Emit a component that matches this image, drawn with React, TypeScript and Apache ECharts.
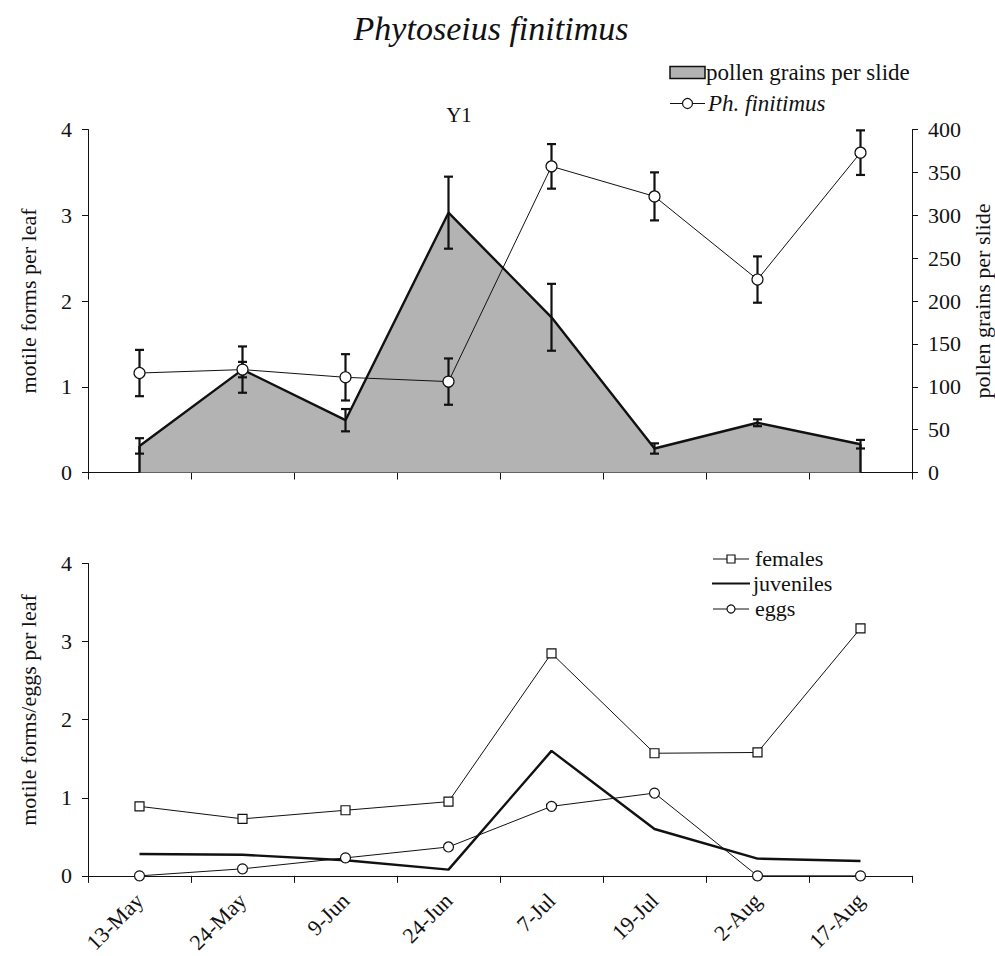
import React, { useEffect, useRef } from "react";
import * as echarts from "echarts";

// Sampling dates (shared by both panels)
const dates = ["13-May", "24-May", "9-Jun", "24-Jun", "7-Jul", "19-Jul", "2-Aug", "17-Aug"];

// Upper panel: pollen grains per slide (mean ± SE), right axis
const pollenMean = [31, 120, 61, 303, 181, 28, 58, 33];
const pollenSE = [9, 9, 13, 42, 39, 6, 4, 5];

// Upper panel: Ph. finitimus motile forms per leaf (mean ± SE), left axis
const finitimusMean = [1.16, 1.2, 1.11, 1.06, 3.57, 3.22, 2.25, 3.73];
const finitimusSE = [0.27, 0.27, 0.27, 0.27, 0.26, 0.28, 0.27, 0.26];

// Lower panel: life stages per leaf
const females = [0.89, 0.73, 0.84, 0.95, 2.85, 1.57, 1.58, 3.17];
const juveniles = [0.28, 0.27, 0.2, 0.08, 1.6, 0.6, 0.22, 0.19];
const eggs = [0, 0.09, 0.23, 0.37, 0.89, 1.06, 0, 0];

const leftTicks = [0, 1, 2, 3, 4];
const pollenTicks = [0, 50, 100, 150, 200, 250, 300, 350, 400];

const FONT = "Liberation Serif";
const INK = "#111";
const AREA = "#b3b3b3";

const errorBar = (capHalf: number, lw: number) => (params: any, api: any) => {
  const x = api.value(0);
  const top = api.coord([x, api.value(2)]);
  const bot = api.coord([x, api.value(1)]);
  const style = { stroke: INK, lineWidth: lw };
  return {
    type: "group",
    children: [
      { type: "line", shape: { x1: top[0], y1: top[1], x2: bot[0], y2: bot[1] }, style },
      { type: "line", shape: { x1: top[0] - capHalf, y1: top[1], x2: top[0] + capHalf, y2: top[1] }, style },
      { type: "line", shape: { x1: bot[0] - capHalf, y1: bot[1], x2: bot[0] + capHalf, y2: bot[1] }, style },
    ],
  };
};

const txt = (text: string, x: number, y: number, size: number, extra: any = {}, rotation = 0) => ({
  type: "text",
  x,
  y,
  rotation,
  style: {
    text,
    fontFamily: FONT,
    fontSize: size,
    fill: INK,
    verticalAlign: "middle",
    ...extra,
  },
});

export default function App() {
  const ref = useRef<HTMLDivElement>(null);

  useEffect(() => {
    if (!ref.current) return;
    const chart = echarts.init(ref.current, undefined, { renderer: "svg" });

    const axisLine = { show: true, lineStyle: { color: INK, width: 1 } };
    const tick = { show: true, length: 6, lineStyle: { color: INK, width: 1 } };
    const label = { color: INK, fontFamily: FONT, fontSize: 22 };

    const last = dates.length - 1;
    const vertical = Math.PI / 2;

    const option: any = {
      animation: false,
      backgroundColor: "#fff",
      textStyle: { fontFamily: FONT },
      grid: [
        { left: 88, right: 83, top: 129.5, height: 343 },
        { left: 88, right: 83, top: 563.5, height: 316 },
      ],
      xAxis: [
        {
          gridIndex: 0,
          type: "category",
          data: dates,
          boundaryGap: true,
          axisLine,
          axisTick: { ...tick, length: 7 },
          axisLabel: { show: false },
          splitLine: { show: false },
        },
        {
          gridIndex: 1,
          type: "category",
          data: dates,
          boundaryGap: true,
          axisLine,
          axisTick: { ...tick, length: 7 },
          axisLabel: { ...label, rotate: 45, margin: 21, interval: 0 },
          splitLine: { show: false },
        },
      ],
      yAxis: [
        {
          gridIndex: 0,
          type: "value",
          min: 0,
          max: 4,
          interval: 1,
          position: "left",
          axisLine,
          axisTick: tick,
          axisLabel: { ...label, margin: 16, formatter: (v: number) => (leftTicks.includes(v) ? String(v) : "") },
          splitLine: { show: false },
        },
        {
          gridIndex: 0,
          type: "value",
          min: 0,
          max: 400,
          interval: 50,
          position: "right",
          axisLine,
          axisTick: tick,
          axisLabel: { ...label, margin: 16, formatter: (v: number) => (pollenTicks.includes(v) ? String(v) : "") },
          splitLine: { show: false },
        },
        {
          gridIndex: 1,
          type: "value",
          min: 0,
          max: 4,
          interval: 1,
          position: "left",
          axisLine,
          axisTick: tick,
          axisLabel: { ...label, margin: 16 },
          splitLine: { show: false },
        },
      ],
      series: [
        {
          name: "pollen grains per slide",
          type: "line",
          xAxisIndex: 0,
          yAxisIndex: 1,
          data: pollenMean,
          symbol: "none",
          lineStyle: { color: INK, width: 2.4 },
          areaStyle: { color: AREA, opacity: 1 },
          z: 1,
        },
        {
          name: "pollen edges",
          type: "custom",
          xAxisIndex: 0,
          yAxisIndex: 1,
          data: [
            [0, pollenMean[0]],
            [last, pollenMean[last]],
          ],
          renderItem: (params: any, api: any) => {
            const a = api.coord([api.value(0), api.value(1)]);
            const b = api.coord([api.value(0), 0]);
            return {
              type: "line",
              shape: { x1: a[0], y1: a[1], x2: b[0], y2: b[1] },
              style: { stroke: INK, lineWidth: 2.4 },
            };
          },
          z: 2,
        },
        {
          name: "pollen SE",
          type: "custom",
          xAxisIndex: 0,
          yAxisIndex: 1,
          data: pollenMean.map((m, i) => [i, m - pollenSE[i], m + pollenSE[i]]),
          renderItem: errorBar(4.5, 2.2),
          z: 3,
        },
        {
          name: "finitimus SE",
          type: "custom",
          xAxisIndex: 0,
          yAxisIndex: 0,
          data: finitimusMean.map((m, i) => [i, m - finitimusSE[i], m + finitimusSE[i]]),
          renderItem: errorBar(4.5, 2.2),
          z: 3,
        },
        {
          name: "Ph. finitimus",
          type: "line",
          xAxisIndex: 0,
          yAxisIndex: 0,
          data: finitimusMean,
          symbol: "circle",
          symbolSize: 11,
          lineStyle: { color: INK, width: 1 },
          itemStyle: { color: "#fff", borderColor: INK, borderWidth: 1.2 },
          z: 4,
        },
        {
          name: "females",
          type: "line",
          xAxisIndex: 1,
          yAxisIndex: 2,
          data: females,
          symbol: "rect",
          symbolSize: 9,
          lineStyle: { color: INK, width: 1 },
          itemStyle: { color: "#fff", borderColor: INK, borderWidth: 1.2 },
          z: 4,
        },
        {
          name: "juveniles",
          type: "line",
          xAxisIndex: 1,
          yAxisIndex: 2,
          data: juveniles,
          symbol: "none",
          lineStyle: { color: INK, width: 2.4 },
          z: 3,
        },
        {
          name: "eggs",
          type: "line",
          xAxisIndex: 1,
          yAxisIndex: 2,
          data: eggs,
          symbol: "circle",
          symbolSize: 10,
          lineStyle: { color: INK, width: 1 },
          itemStyle: { color: "#fff", borderColor: INK, borderWidth: 1.2 },
          z: 4,
        },
      ],
      graphic: [
        txt("Phytoseius finitimus", 491, 28, 34, { align: "center", fontStyle: "italic" }),
        txt("Y1", 459, 115, 21, { align: "center" }),
        // axis titles
        txt("motile forms per leaf", 28, 301, 22, { align: "center" }, vertical),
        txt("pollen grains per slide", 982, 301, 22, { align: "center" }, vertical),
        txt("motile forms/eggs per leaf", 28, 710, 22, { align: "center" }, vertical),
        // upper legend
        {
          type: "rect",
          shape: { x: 670, y: 66.5, width: 35, height: 12 },
          style: { fill: AREA, stroke: INK, lineWidth: 1.5 },
        },
        txt("pollen grains per slide", 706, 72, 23),
        {
          type: "line",
          shape: { x1: 670, y1: 103.5, x2: 705, y2: 103.5 },
          style: { stroke: INK, lineWidth: 1 },
        },
        {
          type: "circle",
          shape: { cx: 687.5, cy: 103.5, r: 5 },
          style: { fill: "#fff", stroke: INK, lineWidth: 1.2 },
        },
        txt("Ph. finitimus", 708, 103, 23, { fontStyle: "italic" }),
        // lower legend
        {
          type: "line",
          shape: { x1: 713, y1: 559, x2: 749, y2: 559 },
          style: { stroke: INK, lineWidth: 1 },
        },
        {
          type: "rect",
          shape: { x: 727, y: 555, width: 8, height: 8 },
          style: { fill: "#fff", stroke: INK, lineWidth: 1.2 },
        },
        txt("females", 755, 558, 22),
        {
          type: "line",
          shape: { x1: 712, y1: 583.5, x2: 750, y2: 583.5 },
          style: { stroke: INK, lineWidth: 2.2 },
        },
        txt("juveniles", 753, 583, 22),
        {
          type: "line",
          shape: { x1: 713, y1: 609, x2: 749, y2: 609 },
          style: { stroke: INK, lineWidth: 1 },
        },
        {
          type: "circle",
          shape: { cx: 731, cy: 609, r: 4 },
          style: { fill: "#fff", stroke: INK, lineWidth: 1.2 },
        },
        txt("eggs", 755, 608, 22),
      ],
    };

    chart.setOption(option);
    return () => chart.dispose();
  }, []);

  return (
    <div
      ref={ref}
      style={{ position: "fixed", left: 0, top: 0, width: 995, height: 956, background: "#fff" }}
    />
  );
}
